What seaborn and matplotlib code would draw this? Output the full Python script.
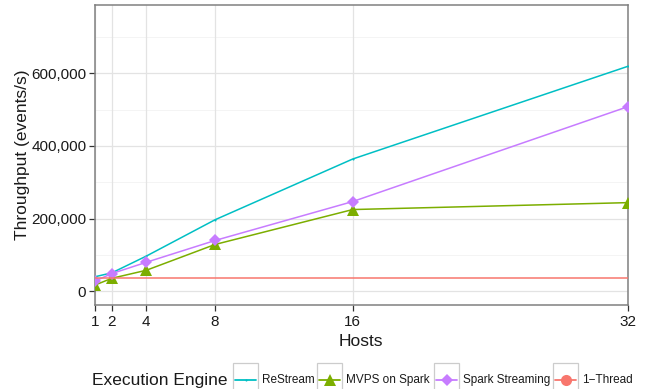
import numpy as np
import pandas as pd
import matplotlib
matplotlib.use("Agg")
import matplotlib.pyplot as plt
from matplotlib.lines import Line2D
from matplotlib.patches import Rectangle
from matplotlib.ticker import FixedLocator, FuncFormatter
import seaborn as sns

# ── data ──────────────────────────────────────────────────────────────────────
hosts = [1, 2, 4, 8, 16, 32]
restream = [40000, 51000, 97000, 197000, 364000, 619000]
mvps = [17000, 36000, 58000, 129000, 225000, 244000]
spark = [28000, 49000, 80000, 140000, 247000, 508000]
one_thread = [37000, 37000, 37000, 37000, 37000, 37000]

engines = ["ReStream", "MVPS on Spark", "Spark Streaming", "1\u2212Thread"]
colors = ["#00BFC4", "#7CAE00", "#C77CFF", "#F8766D"]
markers = ["o", "^", "D", "o"]
msizes = [1.5, 9, 6.5, 0]
y_ticks = [0, 200000, 400000, 600000]
y_minor = [100000, 300000, 500000, 700000]

df = pd.DataFrame({
    "Hosts": hosts * 4,
    "Throughput": restream + mvps + spark + one_thread,
    "Engine": [e for e in engines for _ in hosts],
})

# ── figure ────────────────────────────────────────────────────────────────────
sns.set_style("white")
plt.rcParams["font.family"] = ["Liberation Sans", "DejaVu Sans"]

W, H = 650, 389
fig = plt.figure(figsize=(W / 100, H / 100), dpi=100)
ax = fig.add_axes([94.7 / W, 1 - 305 / H, (628 - 94.7) / W, 300 / H])

# grid (ggplot theme_bw look)
for v in y_minor:
    ax.axhline(v, color="#F2F2F2", lw=0.6, zorder=0)
for v in y_ticks:
    ax.axhline(v, color="#E3E3E3", lw=0.9, zorder=0)
for v in hosts:
    ax.axvline(v, color="#E3E3E3", lw=0.9, zorder=0)

for eng, col, mk, ms in zip(engines, colors, markers, msizes):
    sub = df[df["Engine"] == eng]
    kw = dict(marker=mk, markersize=ms, markeredgewidth=0) if ms > 0 else {}
    sns.lineplot(data=sub, x="Hosts", y="Throughput", color=col, lw=1.1,
                 ax=ax, legend=False, zorder=3, **kw)

ax.set_xlim(1, 32)
ax.set_ylim(-37500, 787500)
ax.xaxis.set_major_locator(FixedLocator(hosts))
ax.yaxis.set_major_locator(FixedLocator(y_ticks))
ax.yaxis.set_major_formatter(FuncFormatter(lambda v, p: f"{int(v):,}"))
ax.tick_params(axis="both", labelsize=11, colors="#333333", labelcolor="#1a1a1a",
               length=4, width=0.9, pad=2, direction="out",
               bottom=True, left=True)
ax.tick_params(axis="x", pad=3)
for s in ax.spines.values():
    s.set_color("#808080")
    s.set_linewidth(1.1)

ax.set_xlabel("Hosts", fontsize=12.5, color="#1a1a1a", labelpad=4)
ax.set_ylabel("Throughput (events/s)", fontsize=12.5, color="#1a1a1a", labelpad=1)

# ── legend at bottom (ggplot style keys) ──────────────────────────────────────
def fx(x):
    return x / W

def fy(y):
    return 1 - y / H

yc = 380
fig.text(fx(228), fy(yc), "Execution Engine", fontsize=12.5, ha="right",
         va="center", color="#1a1a1a")
key_left = [233, 317, 434, 553]
for left, eng, col, mk, ms in zip(key_left, engines, colors, markers, msizes):
    fig.add_artist(Rectangle((fx(left), fy(397)), 25 / W, 34 / H,
                             transform=fig.transFigure, facecolor="white",
                             edgecolor="#CCCCCC", lw=0.9))
    fig.add_artist(Line2D([fx(left + 2), fx(left + 23)], [fy(yc), fy(yc)],
                          transform=fig.transFigure, color=col, lw=1.3))
    kms = ms if ms > 0 else 8
    fig.add_artist(Line2D([fx(left + 12.5)], [fy(yc)], transform=fig.transFigure,
                          color=col, marker=mk, markersize=kms, markeredgewidth=0,
                          lw=0))
    fig.text(fx(left + 29), fy(yc), eng, fontsize=8.5, ha="left", va="center",
             color="#1a1a1a")

fig.savefig("out.png", dpi=100)
